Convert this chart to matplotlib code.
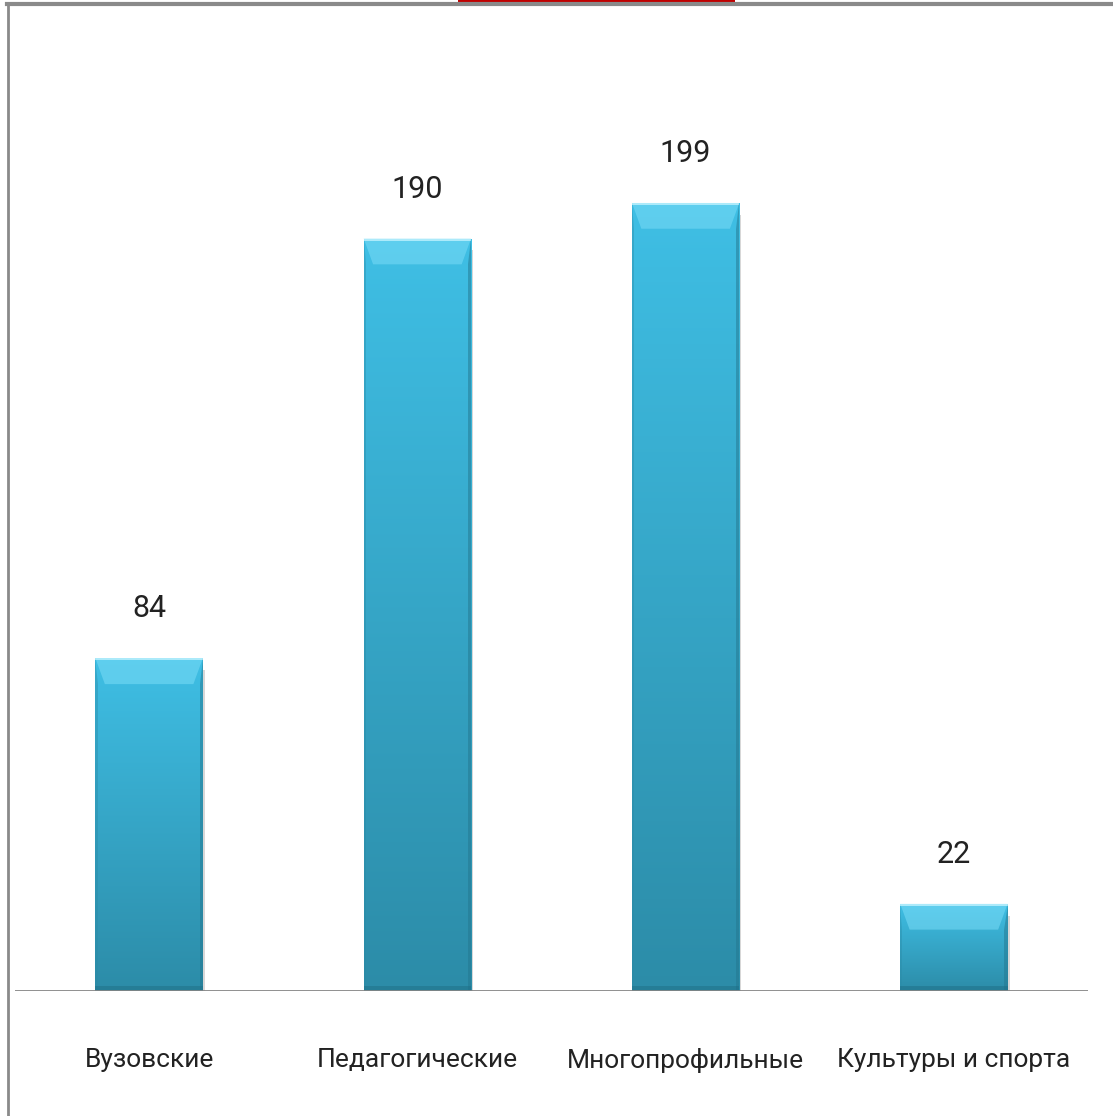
import numpy as np
import matplotlib.pyplot as plt
from matplotlib.patches import Rectangle, Polygon
from matplotlib import font_manager

# данные
categories = ['Вузовские', 'Педагогические', 'Многопрофильные', 'Культуры и спорта']
values = [84, 190, 199, 22]

names = {f.name for f in font_manager.fontManager.ttflist}
font = 'Liberation Sans Narrow' if 'Liberation Sans Narrow' in names else 'Roboto'
plt.rcParams['font.family'] = [font, 'DejaVu Sans']

W, H = 1113, 1116
fig = plt.figure(figsize=(W / 100, H / 100), dpi=100)
fig.patch.set_facecolor('white')

# оси: базовая линия на y=991 px, от x=15 до x=1088
ax = fig.add_axes([15 / W, 1 - 991 / H, 1073 / W, (991 - 20) / H])
ax.set_xlim(-0.5, 3.5)
ax.set_ylim(0, 971 / 3.96)
ax.axis('off')

bar_w = 0.40
grad = np.linspace(0, 1, 256).reshape(-1, 1)
top_c = np.array([0x3f, 0xbf, 0xe5]) / 255
bot_c = np.array([0x2c, 0x8c, 0xa8]) / 255
img = top_c * (1 - grad[..., None]) + bot_c * grad[..., None]

for i, v in enumerate(values):
    x0 = i - bar_w / 2
    # тень
    ax.add_patch(Rectangle((x0 + 0.008, -3), bar_w, v, facecolor='#a8a8a8',
                           edgecolor='none', alpha=0.45, zorder=1))
    rect = Rectangle((x0, 0), bar_w, v, facecolor='none', edgecolor='none', zorder=3)
    ax.add_patch(rect)
    im = ax.imshow(img, extent=(x0, x0 + bar_w, 0, v), aspect='auto', zorder=2,
                   origin='upper')
    im.set_clip_path(rect)
    # фаска сверху и по бокам
    bev = 0.035
    bh = min(6.5, v * 0.3)
    ax.add_patch(Polygon([(x0, v), (x0 + bar_w, v), (x0 + bar_w - bev, v - bh),
                          (x0 + bev, v - bh)], closed=True, facecolor='#7adcf7',
                         edgecolor='none', alpha=0.55, zorder=3))
    ax.add_patch(Polygon([(x0, v), (x0 + bar_w, v), (x0 + bar_w, v - 0.5),
                          (x0, v - 0.5)], closed=True, facecolor='#b5eefc',
                         edgecolor='none', alpha=0.9, zorder=3))
    ax.add_patch(Polygon([(x0 + bar_w, v), (x0 + bar_w, 0), (x0 + bar_w - 0.012, 0),
                          (x0 + bar_w - 0.012, v - bh)], closed=True,
                         facecolor='#24778f', edgecolor='none', alpha=0.5, zorder=3))
    ax.add_patch(Polygon([(x0, v), (x0, 0), (x0 + 0.008, 0), (x0 + 0.008, v - bh)],
                         closed=True, facecolor='#2a8aa6', edgecolor='none',
                         alpha=0.4, zorder=3))
    ax.add_patch(Polygon([(x0, 1.2), (x0 + bar_w, 1.2), (x0 + bar_w, 0), (x0, 0)],
                         closed=True, facecolor='#1f6f86', edgecolor='none',
                         alpha=0.5, zorder=3))
    ax.text(i, v + 12.5, str(v), ha='center', va='center', fontsize=22, color='#222222')
    ax.text(i, -17.5, categories[i], ha='center', va='center', fontsize=19,
            color='#222222')

ax.axhline(0, color='#858585', lw=2, zorder=4)

# рамка слайда
fig.add_artist(plt.Line2D([7.5 / W, 7.5 / W], [0, 1 - 3 / H], transform=fig.transFigure,
                          color='#8a8a8a', lw=2))
fig.add_artist(plt.Line2D([7 / W, 1], [1 - 4 / H, 1 - 4 / H], transform=fig.transFigure,
                          color='#8a8a8a', lw=3))
fig.add_artist(Rectangle((458 / W, 1 - 6 / H), 277 / W, 6 / H, transform=fig.transFigure,
                         facecolor='#c00000', edgecolor='none'))

fig.savefig('out.png', dpi=100, facecolor='white')
